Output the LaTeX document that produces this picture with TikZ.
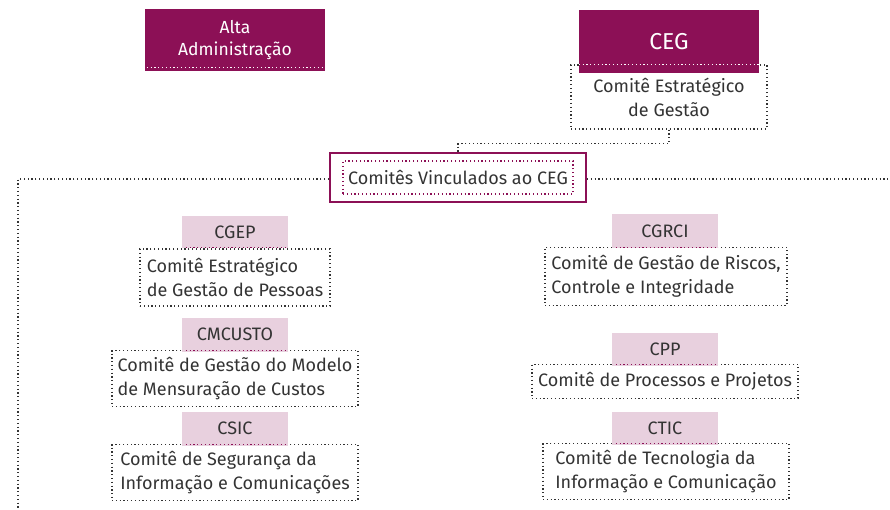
\documentclass[tikz,border=0pt]{standalone}
\usepackage{fontspec}
\setmainfont{Fira Sans}
\definecolor{cegpurple}{HTML}{8C1056}
\definecolor{tagpink}{HTML}{E8D0DE}
\definecolor{txtgray}{HTML}{333333}
\tikzset{
	dotline/.style={line width=1.2pt, dash pattern=on 1.2pt off 2.6pt},
	headbox/.style={fill=cegpurple, text=white, inner sep=0pt, align=center},
	descbox/.style={draw=txtgray, dotline, text=txtgray, align=left, inner sep=0pt,
		font=\fontsize{18}{24}\selectfont},
	tagbox/.style={fill=tagpink, text=txtgray, inner sep=0pt, minimum width=106pt,
		font=\fontsize{18}{24}\selectfont},
	tagline/.style={draw=cegpurple, dotline},
	link/.style={draw=txtgray, dotline},
}
\begin{document}
\begin{tikzpicture}[x=1pt,y=-1pt]
	\useasboundingbox (0,0) rectangle (890,510);
	% top
	\node[headbox, minimum width=180pt, minimum height=62pt, font=\fontsize{17.5}{22}\selectfont] (alta) at (235,40.5) {Alta\\Administração};
	\draw[draw=white, dotline] ([xshift=2pt,yshift=4pt]alta.south west) -- ([xshift=-2pt,yshift=4pt]alta.south east);
	\node[descbox, align=center, minimum width=196pt, minimum height=64pt] (cegdesc) at (669,97) {Comitê Estratégico\\de Gestão};
	\node[headbox, minimum width=180pt, minimum height=63pt, font=\fontsize{23}{28}\selectfont, anchor=north] (ceg) at (669,10) {CEG};
	\draw[draw=white, dotline] (ceg.west |- cegdesc.north) -- (ceg.east |- cegdesc.north);

	% comites vinculados
	\node[draw=cegpurple, line width=2pt, minimum width=256pt, minimum height=49pt] (vincout) at (458,177.5) {};
	\node[draw=cegpurple, dotline, text=txtgray, minimum width=230pt, minimum height=33pt, inner sep=0pt,
		font=\fontsize{18}{24}\selectfont] (vinc) at (458,177.5) {Comitês Vinculados ao CEG};
	\coordinate (lcorner) at (18,179);
	\coordinate (lend) at (18,510);
	\coordinate (rend) at (890,179);
	\draw[link] (cegdesc.south) -- ++(0,14) -| (vincout.north);
	\draw[link] (vincout.west |- lcorner) -- (lcorner) -- (lend);
	\draw[link] (vincout.east |- rend) -- (rend);

	% left column
	\node[descbox, minimum width=190pt, minimum height=57pt] (cgepdesc) at (235,277.5) {Comitê Estratégico\\de Gestão de Pessoas};
	\node[descbox, minimum width=246pt, minimum height=56pt] (cmcdesc) at (235,378.5) {Comitê de Gestão do Modelo\\de Mensuração de Custos};
	\node[descbox, minimum width=246pt, minimum height=56pt] (csicdesc) at (235,472.5) {Comitê de Segurança da\\Informação e Comunicações};
	\node[tagbox, minimum height=32pt] (cgep) at (235,232.5) {CGEP};
	\node[tagbox, minimum height=34pt] (cmc) at (235,334.5) {CMCUSTO};
	\node[tagbox, minimum height=34pt] (csic) at (235,428.5) {CSIC};

	% right column
	\node[descbox, minimum width=242pt, minimum height=58pt] (cgrcidesc) at (666,276.5) {Comitê de Gestão de Riscos,\\Controle e Integridade};
	\node[descbox, minimum width=266pt, minimum height=34pt] (cppdesc) at (665,381.5) {Comitê de Processos e Projetos};
	\node[descbox, minimum width=246pt, minimum height=56pt] (cticdesc) at (666,471.5) {Comitê de Tecnologia da\\Informação e Comunicação};
	\node[tagbox, minimum height=34pt] (cgrci) at (665,231.5) {CGRCI};
	\node[tagbox, minimum height=33pt] (cpp) at (665,349) {CPP};
	\node[tagbox, minimum height=33pt] (ctic) at (665,428) {CTIC};

	\foreach \t in {cgep,cmc,csic,cgrci,cpp,ctic}
		\draw[tagline] ([xshift=4pt,yshift=1pt]\t.south west) -- ([xshift=-2pt,yshift=1pt]\t.south east);
\end{tikzpicture}
\end{document}
